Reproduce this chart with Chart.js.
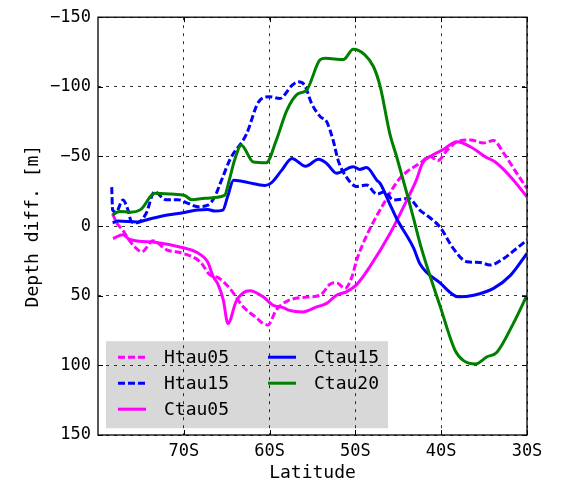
<!DOCTYPE html>
<html>
<head>
<meta charset="utf-8">
<script src="https://cdn.jsdelivr.net/npm/chart.js@4.4.1/dist/chart.umd.min.js"></script>
<style>
  body { margin: 0; background: #fff; }
  canvas { display: block; }
</style>
</head>
<body>
<canvas id="myChart" width="568" height="482"></canvas>
<script>
// latitudes (deg, negative = south) and depth differences [m]
var htau05Lat = [-78.3, -77.8, -77.1, -76.5, -75.7, -74.9, -73.6, -72.0, -70.1, -68.1, -66.95, -66.0, -64.6, -63.1, -61.5, -60.75, -60.2, -59.2, -58.0, -55.7, -54.1, -52.95, -52.2, -51.2, -50.4, -49.85, -49.1, -47.9, -46.9, -45.0, -44.0, -42.5, -41.3, -40.4, -39.3, -38.0, -36.6, -35.1, -33.9, -32.7, -31.2, -30.0];
var htau05 = [-9, -2, 3, 9, 15, 18.5, 10.6, 17, 19.6, 25.6, 35, 37, 45, 57.8, 66, 70, 71, 60, 54, 51, 49.6, 41.7, 40.7, 44.7, 36.4, 24.4, 12.4, -3, -14, -33, -39, -45, -50, -47, -54.6, -61, -61.9, -59.7, -61.4, -52.2, -38, -27];

var htau15Lat = [-78.4, -78.3, -77.9, -77.1, -76.5, -76.1, -75.4, -74.4, -73.4, -72.1, -70.7, -69.5, -68.4, -67.2, -66.4, -65.6, -64.6, -62.7, -61.3, -60.0, -58.8, -57.4, -56.7, -55.9, -55.1, -54.1, -53.35, -52.6, -52.0, -51.2, -49.85, -48.7, -47.5, -46.55, -45.6, -43.8, -42.5, -41.3, -40.1, -38.6, -37.0, -35.5, -34.3, -32.7, -31.2, -30.0];
var htau15 = [-28, -11.5, -10, -18.7, -11.5, -3, -2.4, -9, -24.6, -19, -19, -16.3, -13.9, -15, -21, -33, -48, -66, -89, -92.9, -91.7, -101, -103.6, -101, -88, -78.6, -75, -61.7, -47, -36.6, -28.5, -29.5, -23, -24.6, -18.7, -19.9, -11.5, -6, 1, 16, 25.6, 26.1, 28, 23.2, 16, 10];

var ctau05Lat = [-78.25, -77.1, -76.3, -73.2, -70.1, -68.5, -67.2, -66.6, -66.0, -65.4, -64.85, -63.9, -63.1, -62.3, -60.75, -59.6, -58.4, -57.8, -56.1, -54.5, -53.35, -52.2, -51.0, -49.85, -48.3, -45.95, -44.0, -42.9, -42.2, -41.0, -39.75, -38.2, -36.6, -34.85, -33.7, -31.9, -30.0];
var ctau05 = [8.9, 6.3, 9.6, 11.8, 15.5, 18.8, 26, 36, 42, 53, 70, 54, 48, 46.5, 50.8, 56.8, 58.5, 60.3, 61.6, 58, 55.5, 49.6, 47, 42, 29, 5.2, -18.7, -33, -45, -51, -55, -60.5, -57, -49.7, -46, -35.3, -21];

var ctau15Lat = [-78.3, -77.7, -75.4, -74.2, -71.9, -70.1, -68.4, -67.2, -66.4, -65.45, -64.9, -64.2, -63.1, -61.5, -60.55, -59.8, -58.6, -57.4, -55.8, -54.3, -53.35, -52.2, -50.25, -49.5, -48.7, -47.5, -47.1, -46.0, -45.2, -43.2, -42.5, -40.1, -38.0, -36.2, -33.9, -31.9, -30.0];
var ctau15 = [-2.4, -3.6, -3, -4.8, -8, -9.6, -11.5, -12, -10.8, -11.5, -21, -33, -32, -30, -29.2, -31, -40, -48.6, -43, -48, -45, -38, -42.6, -40.7, -42, -33, -30.5, -16, -5.5, 16, 26.8, 41, 50.8, 49.6, 44.7, 35.2, 19.6];

var ctau20Lat = [-78.3, -77.5, -76.2, -75.0, -73.4, -71.5, -69.9, -69.1, -67.5, -65.25, -64.7, -64.1, -63.3, -61.9, -60.4, -59.2, -58.0, -56.7, -55.7, -54.1, -53.5, -51.4, -50.25, -48.9, -47.9, -47.1, -46.0, -45.2, -44.0, -43.2, -42.4, -40.1, -38.4, -37.4, -36.0, -34.7, -33.5, -31.6, -30.0];
var ctau20 = [-8, -10.5, -10, -12, -23.5, -23, -22, -19, -20, -22, -33, -47, -58, -46, -45.5, -62, -83, -95, -97.5, -119.5, -120.5, -119.6, -127, -123, -114.6, -100, -66.6, -50, -23.5, -5, 14, 58, 89, 96.6, 99, 94, 90.5, 70, 49.6];

var xTicks = [-70, -60, -50, -40, -30];
var yTicks = [-150, -100, -50, 0, 50, 100, 150];

function pts(lat, val) {
    return lat.map(function(x, i) { return {x: x, y: val[i]}; });
}

var mono = "'DejaVu Sans Mono', monospace";

function line(label, lat, val, color, dashed, order) {
    return {
        label: label,
        data: pts(lat, val),
        borderColor: color,
        backgroundColor: color,
        borderWidth: 3,
        borderDash: dashed ? [7, 3] : [],
        pointRadius: 0,
        fill: false,
        cubicInterpolationMode: 'monotone',
        order: order,
        _dashed: dashed
    };
}

// gray legend box under the grid, legend items + frame + inward ticks on top
var decor = {
    id: 'decor',
    beforeDraw: function(chart) {
        var ctx = chart.ctx, a = chart.chartArea;
        ctx.save();
        ctx.fillStyle = '#d8d8d8';
        ctx.fillRect(a.left + 8, a.top + 324, 282, 87);
        ctx.restore();
    },
    afterDraw: function(chart) {
        var ctx = chart.ctx, a = chart.chartArea;
        var xs = chart.scales.x, ys = chart.scales.y;
        ctx.save();
        // legend entries, two columns
        var cols = [a.left + 20, a.left + 170];
        var rows = [a.top + 340, a.top + 366, a.top + 392];
        ctx.font = "18px " + mono;
        ctx.textBaseline = 'middle';
        ctx.fillStyle = '#000';
        chart.data.datasets.forEach(function(ds, i) {
            var cx = cols[Math.floor(i / 3)], cy = rows[i % 3];
            ctx.beginPath();
            ctx.lineWidth = 3;
            ctx.strokeStyle = ds.borderColor;
            ctx.setLineDash(ds._dashed ? [7, 3] : []);
            ctx.moveTo(cx, cy);
            ctx.lineTo(cx + 28, cy);
            ctx.stroke();
            ctx.setLineDash([]);
            ctx.fillText(ds.label, cx + 46, cy + 1);
        });
        // frame
        ctx.lineWidth = 1.3;
        ctx.strokeStyle = '#000';
        ctx.strokeRect(a.left, a.top, a.right - a.left, a.bottom - a.top);
        // inward ticks on all four sides
        ctx.lineWidth = 1;
        ctx.beginPath();
        xTicks.forEach(function(v) {
            var px = Math.round(xs.getPixelForValue(v)) + 0.5;
            ctx.moveTo(px, a.bottom); ctx.lineTo(px, a.bottom - 5);
            ctx.moveTo(px, a.top); ctx.lineTo(px, a.top + 5);
        });
        yTicks.forEach(function(v) {
            var py = Math.round(ys.getPixelForValue(v)) + 0.5;
            ctx.moveTo(a.left, py); ctx.lineTo(a.left + 5, py);
            ctx.moveTo(a.right, py); ctx.lineTo(a.right - 5, py);
        });
        ctx.stroke();
        ctx.restore();
    }
};

var ctx = document.getElementById('myChart').getContext('2d');
var chart = new Chart(ctx, {
    type: 'line',
    data: {
        datasets: [
            line('Htau05', htau05Lat, htau05, '#ff00ff', true, 4),
            line('Htau15', htau15Lat, htau15, '#0000ff', true, 3),
            line('Ctau05', ctau05Lat, ctau05, '#ff00ff', false, 2),
            line('Ctau15', ctau15Lat, ctau15, '#0000ff', false, 1),
            line('Ctau20', ctau20Lat, ctau20, '#008000', false, 0)
        ]
    },
    options: {
        responsive: false,
        animation: false,
        devicePixelRatio: 1,
        layout: { padding: { left: 0, right: 41, top: 17, bottom: 0 } },
        plugins: { legend: { display: false }, tooltip: { enabled: false } },
        scales: {
            x: {
                type: 'linear',
                min: -80,
                max: -30,
                afterBuildTicks: function(s) { s.ticks = xTicks.map(function(v) { return {value: v}; }); },
                afterFit: function(s) { s.height = 47; },
                grid: { color: '#000', lineWidth: 0.8, drawTicks: false },
                border: { display: false, dash: [3, 5] },
                ticks: {
                    padding: 6,
                    color: '#000',
                    font: { family: mono, size: 17 },
                    maxRotation: 0,
                    callback: function(v) { return Math.abs(v) + 'S'; }
                },
                title: {
                    display: true,
                    text: 'Latitude',
                    color: '#000',
                    font: { family: mono, size: 18, lineHeight: 1 },
                    padding: { top: 0, bottom: 0 }
                }
            },
            y: {
                reverse: true,
                min: -150,
                max: 150,
                afterBuildTicks: function(s) { s.ticks = yTicks.map(function(v) { return {value: v}; }); },
                afterFit: function(s) { s.width = 98; },
                grid: { color: '#000', lineWidth: 0.8, drawTicks: false },
                border: { display: false, dash: [3, 5] },
                ticks: {
                    padding: 7,
                    color: '#000',
                    font: { family: mono, size: 17 },
                    callback: function(v) { return v < 0 ? '\u2212' + Math.abs(v) : '' + v; }
                },
                title: {
                    display: true,
                    text: 'Depth diff. [m]',
                    color: '#000',
                    font: { family: mono, size: 18 },
                    padding: { top: 23, bottom: 0 }
                }
            }
        }
    },
    plugins: [decor]
});
</script>
</body>
</html>
